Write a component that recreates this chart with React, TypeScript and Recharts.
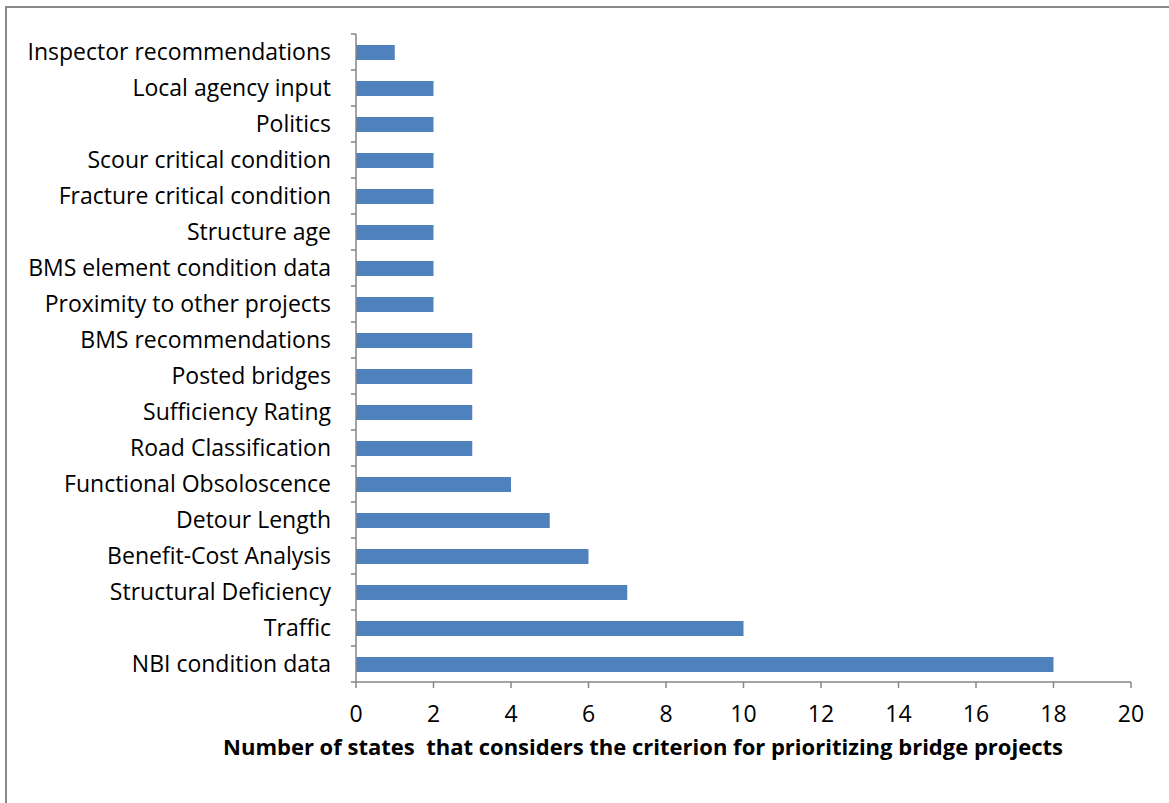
import React from 'react'
import { BarChart, Bar, XAxis, YAxis } from 'recharts'

const criteria = [
  'Inspector recommendations',
  'Local agency input',
  'Politics',
  'Scour critical condition',
  'Fracture critical condition',
  'Structure age',
  'BMS element condition data',
  'Proximity to other projects',
  'BMS recommendations',
  'Posted bridges',
  'Sufficiency Rating',
  'Road Classification',
  'Functional Obsoloscence',
  'Detour Length',
  'Benefit-Cost Analysis',
  'Structural Deficiency',
  'Traffic',
  'NBI condition data',
]

const stateCounts = [1, 2, 2, 2, 2, 2, 2, 2, 3, 3, 3, 3, 4, 5, 6, 7, 10, 18]

const xTicks = [0, 2, 4, 6, 8, 10, 12, 14, 16, 18, 20]

const axisTitle = 'Number of states  that considers the criterion for prioritizing bridge projects'

const data = criteria.map((name, i) => ({ name, value: stateCounts[i] }))

const FONT = '"Open Sans", sans-serif'
const AXIS_GREY = '#868686'

const CategoryTick = (props: any) => {
  const { x, y, payload, index } = props
  const half = payload?.offset ?? 18
  const lx = x + 20
  return (
    <g>
      <line x1={lx} x2={lx + 5} y1={y - half} y2={y - half} stroke={AXIS_GREY} strokeWidth={1.5} />
      {index === criteria.length - 1 && (
        <line x1={lx} x2={lx + 5} y1={y + half} y2={y + half} stroke={AXIS_GREY} strokeWidth={1.5} />
      )}
      <text x={x} y={y} dy="0.35em" textAnchor="end" fontSize={23} fontFamily={FONT} fill="#000">
        {payload.value}
      </text>
    </g>
  )
}

export default function App() {
  return (
    <div style={{ position: 'fixed', left: 0, top: 0, width: 1169, height: 803, background: '#fff' }}>
      <div
        style={{
          position: 'absolute',
          left: 5,
          top: 6,
          width: 1164,
          height: 797,
          borderTop: '2px solid #8a8a8a',
          borderLeft: '2px solid #8a8a8a',
          boxSizing: 'border-box',
        }}
      />
      <BarChart
        width={1169}
        height={803}
        data={data}
        layout="vertical"
        margin={{ top: 34, right: 38, left: 0, bottom: 81 }}
        style={{ position: 'absolute', left: 0, top: 0 }}
      >
        <XAxis
          type="number"
          domain={[0, 20]}
          ticks={xTicks}
          interval={0}
          height={40}
          stroke={AXIS_GREY}
          strokeWidth={1.5}
          tickSize={6}
          tickMargin={18}
          tick={{ fontSize: 23, fontFamily: FONT, fill: '#000' }}
        />
        <YAxis
          type="category"
          dataKey="name"
          width={356}
          interval={0}
          stroke={AXIS_GREY}
          strokeWidth={1.5}
          tickLine={false}
          tickSize={5}
          tickMargin={20}
          tick={<CategoryTick />}
        />
        <Bar dataKey="value" fill="#4f81bd" barSize={15} isAnimationActive={false} />
      </BarChart>
      <div
        style={{
          position: 'absolute',
          left: 643,
          top: 746,
          transform: 'translate(-50%, -50%)',
          whiteSpace: 'pre',
          fontFamily: FONT,
          fontWeight: 700,
          fontSize: 22,
          color: '#000',
        }}
      >
        {axisTitle}
      </div>
    </div>
  )
}
